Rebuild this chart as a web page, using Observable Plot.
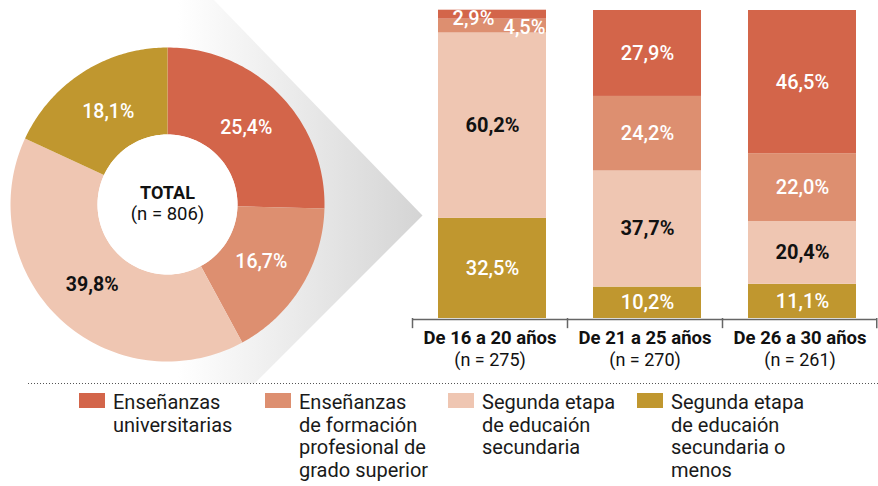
<!DOCTYPE html>
<html><head><meta charset="utf-8">
<script src="https://cdn.jsdelivr.net/npm/d3@7"></script>
<script src="https://cdn.jsdelivr.net/npm/@observablehq/plot@0.6"></script>
<style>
body{margin:0;background:#fff;font-family:Roboto,sans-serif;}
#wrap{position:relative;width:878px;height:486px;overflow:hidden;background:#fff;}
#donut{position:absolute;left:0;top:0;width:440px;height:386px;}
#bars{position:absolute;left:400px;top:0;width:478px;height:380px;}
#donut svg,#bars svg{max-width:none;}
.dots{position:absolute;left:28px;top:383px;width:850px;height:1px;background:repeating-linear-gradient(to right,#555 0 1px,transparent 1px 3px);}
.leg{position:absolute;top:391px;font-size:20px;line-height:22.5px;color:#1a1a1a;white-space:nowrap;}
.sw{position:absolute;left:0;top:2px;width:26px;height:15px;}
.lt{position:absolute;left:34px;top:0;}
</style></head>
<body><div id="wrap"><div id="donut"></div><div id="bars"></div><div class="dots"></div><div id="legend"></div></div>
<script>
const categories = ["Enseñanzas universitarias", "Enseñanzas de formación profesional de grado superior", "Segunda etapa de educación secundaria", "Segunda etapa de educación secundaria o menos"];
const colors = ["#D3654A", "#DD8F70", "#EFC6B2", "#C0972F"];
const totalValues = [25.4, 16.7, 39.8, 18.1];
const totalTitle = "TOTAL";
const totalN = "(n = 806)";
const groups = ["De 16 a 20 años", "De 21 a 25 años", "De 26 a 30 años"];
const groupN = ["(n = 275)", "(n = 270)", "(n = 261)"];
const univ = [2.9, 27.9, 46.5];
const fp = [4.5, 24.2, 22.0];
const sec = [60.2, 37.7, 20.4];
const secMenos = [32.5, 10.2, 11.1];
const legendLabels = [["Enseñanzas", "universitarias"], ["Enseñanzas", "de formación", "profesional de", "grado superior"], ["Segunda etapa", "de educaión", "secundaria"], ["Segunda etapa", "de educaión", "secundaria o", "menos"]];

const fmt = v => v.toFixed(1).replace(".", ",") + "%";
const FONT = "Roboto";

// ---------- Donut ----------
const W1 = 440, H1 = 386, cx = 167, cy = 204, R = 157, R0 = 70;
const inner = R0 / R;
const slices = [];
let acc = 0;
const sumT = d3.sum(totalValues);
totalValues.forEach((v, i) => {
  const a0 = acc / sumT * 2 * Math.PI;
  acc += v;
  const a1 = acc / sumT * 2 * Math.PI;
  slices.push({cat: categories[i], v, a0, a1, mid: (a0 + a1) / 2});
});
const arcPts = [];
const N = 80;
slices.forEach(s => {
  for (let t = 0; t <= N; t++) { const a = s.a0 + (s.a1 - s.a0) * t / N; arcPts.push({cat: s.cat, x: Math.sin(a), y: Math.cos(a)}); }
  for (let t = N; t >= 0; t--) { const a = s.a0 + (s.a1 - s.a0) * t / N; arcPts.push({cat: s.cat, x: inner * Math.sin(a), y: inner * Math.cos(a)}); }
});
const hole = d3.range(0, 121).map(t => ({x: inner * Math.sin(t / 120 * 2 * Math.PI), y: inner * Math.cos(t / 120 * 2 * Math.PI)}));
const labR = 110 / R;
const donutLabels = slices.map(s => ({...s, x: labR * Math.sin(s.mid), y: labR * Math.cos(s.mid)}));
// decorative wedge (pointer towards the bars), in donut units
const wedge = [[45 / R, 206 / R], [255 / R, -11 / R], [87 / R, -179 / R], [0, -179 / R], [0, 206 / R]].map(([x, y]) => ({x, y}));

const defs = () => {
  const g = d3.create("svg:defs");
  const lg = g.append("linearGradient").attr("id", "wedgeGrad").attr("gradientUnits", "userSpaceOnUse")
    .attr("x1", cx + 10).attr("x2", cx + 255).attr("y1", 0).attr("y2", 0);
  lg.append("stop").attr("offset", 0).attr("stop-color", "#ffffff");
  lg.append("stop").attr("offset", 1).attr("stop-color", "#d4d4d4");
  return g.node();
};

const donut = Plot.plot({
  width: W1, height: H1, margin: 0,
  style: {background: "transparent", fontFamily: FONT, overflow: "visible"},
  x: {domain: [-cx / R, (W1 - cx) / R], range: [0, W1], axis: null},
  y: {domain: [-(H1 - cy) / R, cy / R], range: [H1, 0], axis: null},
  color: {domain: categories, range: colors},
  marks: [
    defs,
    Plot.line(wedge, {x: "x", y: "y", fill: "url(#wedgeGrad)", stroke: "none", curve: "linear-closed"}),
    Plot.line(arcPts, {x: "x", y: "y", z: "cat", fill: "cat", stroke: "none", curve: "linear-closed"}),
    Plot.line(hole, {x: "x", y: "y", fill: "white", stroke: "none", curve: "linear-closed"}),
    Plot.text(donutLabels.filter(d => d.cat !== categories[2]), {x: "x", y: "y", text: d => fmt(d.v), fill: "white", fontSize: 19.5, fontWeight: 500, lineAnchor: "middle"}),
    Plot.text(donutLabels.filter(d => d.cat === categories[2]), {x: "x", y: "y", text: d => fmt(d.v), fill: "#111", fontSize: 19.5, fontWeight: 700, lineAnchor: "middle"}),
    Plot.text([totalTitle], {x: () => 0, y: () => 0, text: d => d, dy: -11.5, fill: "#111", fontSize: 18, fontWeight: 700, lineAnchor: "middle"}),
    Plot.text([totalN], {x: () => 0, y: () => 0, text: d => d, dy: 10, fill: "#111", fontSize: 18.5, fontWeight: 400, lineAnchor: "middle"})
  ]
});
document.getElementById("donut").append(donut);

// ---------- Bars ----------
const W2 = 478, H2 = 380, mL = 12, mR = 1, mT = 10, mB = 62;
const series = [secMenos, sec, fp, univ];      // bottom to top
const seriesCat = [categories[3], categories[2], categories[1], categories[0]];
const stacked = [];
groups.forEach((g, gi) => {
  let y = 0;
  series.forEach((arr, si) => {
    const v = arr[gi];
    stacked.push({group: g, cat: seriesCat[si], v, y0: y, y1: y + v, mid: y + v / 2, small: v < 6});
    y += v;
  });
});
const bw = (W2 - mL - mR) / groups.length;
const insL = 26, insR = 21, shift = (insL - insR) / 2;
const axisColor = "#666";
const labelW = stacked.filter(d => !d.small && d.cat !== categories[2]);
const labelB = stacked.filter(d => !d.small && d.cat === categories[2]);

const bars = Plot.plot({
  width: W2, height: H2, marginLeft: mL, marginRight: mR, marginTop: mT, marginBottom: mB,
  style: {background: "transparent", fontFamily: FONT, overflow: "visible"},
  x: {domain: groups, padding: 0, axis: null},
  y: {domain: [0, 100], axis: null},
  color: {domain: categories, range: colors},
  marks: [
    Plot.barY(stacked, {x: "group", y1: "y0", y2: "y1", fill: "cat", insetLeft: insL, insetRight: insR}),
    Plot.text(labelW, {x: "group", y: "mid", text: d => fmt(d.v), dx: shift, fill: "white", fontSize: 20, fontWeight: 500, lineAnchor: "middle"}),
    Plot.text(labelB, {x: "group", y: "mid", text: d => fmt(d.v), dx: shift, fill: "#111", fontSize: 20, fontWeight: 700, lineAnchor: "middle"}),
    Plot.text(stacked.filter(d => d.small && d.cat === categories[0]), {x: "group", y: "mid", text: d => fmt(d.v), dx: -16.5, dy: 4, fill: "white", fontSize: 20, fontWeight: 500, lineAnchor: "middle"}),
    Plot.text(stacked.filter(d => d.small && d.cat === categories[1]), {x: "group", y: "mid", text: d => fmt(d.v), dx: 34.5, dy: 1.5, fill: "white", fontSize: 20, fontWeight: 500, lineAnchor: "middle"}),
    Plot.ruleY([0], {stroke: axisColor, strokeWidth: 1.5, dy: 1}),
    Plot.ruleX(groups, {x: d => d, dx: -bw / 2, y1: 0, y2: -3.3, stroke: axisColor, strokeWidth: 1.5}),
    Plot.ruleX([groups[groups.length - 1]], {x: d => d, dx: bw / 2 - 0.75, y1: 0, y2: -3.3, stroke: axisColor, strokeWidth: 1.5}),
    Plot.text(groups, {x: d => d, y: () => 0, text: d => d, dy: 20, fill: "#111", fontSize: 18.5, fontWeight: 700, lineAnchor: "middle"}),
    Plot.text(groups.map((g, i) => ({g, n: groupN[i]})), {x: "g", y: () => 0, text: "n", dy: 41.5, fill: "#111", fontSize: 18, fontWeight: 400, lineAnchor: "middle"})
  ]
});
document.getElementById("bars").append(bars);

// ---------- Legend ----------
const legPos = [79, 265, 448, 637];
const legend = document.getElementById("legend");
categories.forEach((c, i) => {
  const item = document.createElement("div");
  item.className = "leg";
  item.style.left = legPos[i] + "px";
  const sw = document.createElement("div");
  sw.className = "sw"; sw.style.background = colors[i];
  const t = document.createElement("div");
  t.className = "lt";
  t.innerHTML = legendLabels[i].join("<br>");
  item.append(sw, t);
  legend.append(item);
});
</script></body></html>
